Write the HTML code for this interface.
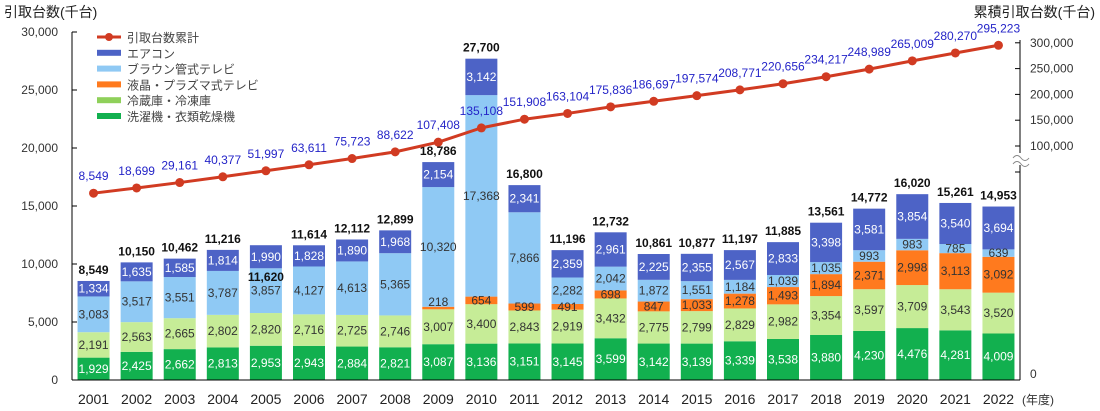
<!DOCTYPE html>
<html><head><meta charset="utf-8"><style>
html,body{margin:0;padding:0;background:#fff;}
svg{display:block;font-family:"Liberation Sans","Noto Sans CJK JP",sans-serif;}
</style></head><body>
<svg id="chart" width="1100" height="411" viewBox="0 0 1100 411">
<text x="4" y="17" font-size="14" fill="#222">引取台数(千台)</text>
<text x="1095" y="17" font-size="14" fill="#222" text-anchor="end">累積引取台数(千台)</text>
<g id="bars"></g>
<g id="labels"></g>
<g id="axes"></g>
<g id="line"></g>
<g id="legend"></g>
</svg>
<script>
const years = ["2001","2002","2003","2004","2005","2006","2007","2008","2009","2010","2011","2012","2013","2014","2015","2016","2017","2018","2019","2020","2021","2022"];
const washer = [1929,2425,2662,2813,2953,2943,2884,2821,3087,3136,3151,3145,3599,3142,3139,3339,3538,3880,4230,4476,4281,4009];
const fridge = [2191,2563,2665,2802,2820,2716,2725,2746,3007,3400,2843,2919,3432,2775,2799,2829,2982,3354,3597,3709,3543,3520];
const lcd = [0,0,0,0,0,0,0,0,218,654,599,491,698,847,1033,1278,1493,1894,2371,2998,3113,3092];
const crt = [3083,3517,3551,3787,3857,4127,4613,5365,10320,17368,7866,2282,2042,1872,1551,1184,1039,1035,993,983,785,639];
const aircon = [1334,1635,1585,1814,1990,1828,1890,1968,2154,3142,2341,2359,2961,2225,2355,2567,2833,3398,3581,3854,3540,3694];
const totals = [8549,10150,10462,11216,11620,11614,12112,12899,18786,27700,16800,11196,12732,10861,10877,11197,11885,13561,14772,16020,15261,14953];
const cumulative = [8549,18699,29161,40377,51997,63611,75723,88622,107408,135108,151908,163104,175836,186697,197574,208771,220656,234217,248989,265009,280270,295223];
const leftTicks = [0,5000,10000,15000,20000,25000,30000];
const rightTicks = [100000,150000,200000,250000,300000];

const NS="http://www.w3.org/2000/svg";
function el(tag,attrs,parent,text){const e=document.createElementNS(NS,tag);for(const k in attrs)e.setAttribute(k,attrs[k]);if(text!==undefined)e.textContent=text;parent.appendChild(e);return e;}
const fmt=v=>v.toLocaleString("en-US");
const X0=72,X1=1020,band=(X1-X0)/years.length,bw=32;
const xc=i=>X0+band*(i+0.5);
const yL=v=>380-v*(348/30000);
const yR=v=>146+(100000-v)*0.000516;

const bars=document.getElementById("bars");
const labels=document.getElementById("labels");
const series=[
 {name:"washer",data:washer,color:"#12b04f",tc:"#fff"},
 {name:"fridge",data:fridge,color:"#c6ec97",tc:"#333"},
 {name:"lcd",data:lcd,color:"#ff7a1e",tc:"#333"},
 {name:"crt",data:crt,color:"#8fc9f4",tc:"#333"},
 {name:"aircon",data:aircon,color:"#4d63c6",tc:"#fff"}];
years.forEach((y,i)=>{
 let base=0;
 series.forEach(s=>{
  const v=s.data[i];
  if(v>0){
   const r=el("rect",{x:xc(i)-bw/2,y:yL(base+v),width:bw,height:yL(base)-yL(base+v),fill:s.color},bars);
   
   
   let ly=(yL(base)+yL(base+v))/2+4;
   if(yL(base)-yL(base+v)<5) ly=yL(base+v)-1;
   const t=el("text",{x:xc(i),y:ly,"font-size":"12","text-anchor":"middle",fill:s.tc},labels,fmt(v));
   
   
  }
  base+=v;
 });
 const ty = (y==="2005") ? yL(totals[i])+36 : yL(totals[i])-7;
 const t=el("text",{x:xc(i),y:ty,"font-size":"12","font-weight":"bold","text-anchor":"middle",fill:"#111"},labels,fmt(totals[i]));
 
 
 const yl=el("text",{x:xc(i),y:404,"font-size":"14","text-anchor":"middle",fill:"#222"},labels,y);
 
 
});
const ax=document.getElementById("axes");
el("line",{x1:X0,y1:32,x2:X0,y2:380,stroke:"#000"},ax);
el("line",{x1:X0,y1:380,x2:X1,y2:380,stroke:"#000"},ax);
el("line",{x1:X1,y1:40,x2:X1,y2:380,stroke:"#000"},ax);
leftTicks.forEach(v=>{
 el("line",{x1:X0,y1:yL(v),x2:X0+5,y2:yL(v),stroke:"#000"},ax);
 const t=el("text",{x:58,y:yL(v)+4,"font-size":"12","text-anchor":"end",fill:"#333"},ax,fmt(v));
 
 
});
rightTicks.forEach(v=>{
 el("line",{x1:X1-5,y1:yR(v),x2:X1,y2:yR(v),stroke:"#000"},ax);
 const t=el("text",{x:1030,y:yR(v)+4,"font-size":"12",fill:"#333"},ax,fmt(v));
 
 
});
el("line",{x1:X1-5,y1:172,x2:X1,y2:172,stroke:"#000"},ax);
el("rect",{x:1010,y:153,width:20,height:12,fill:"#fff"},ax);
el("path",{d:"M1013 158 q4 -5 8 0 t8 0 M1013 164 q4 -5 8 0 t8 0",stroke:"#888",fill:"none"},ax);
el("text",{x:1030,y:378,"font-size":"12",fill:"#333"},ax,"0");
el("text",{x:1022,y:404,"font-size":"12",fill:"#333"},ax,"(年度)");

const ln=document.getElementById("line");
el("polyline",{points:cumulative.map((v,i)=>xc(i)+","+yR(v)).join(" "),fill:"none",stroke:"#d13b22","stroke-width":"3"},ln);
cumulative.forEach((v,i)=>{
 const c=el("circle",{cx:xc(i),cy:yR(v),r:4.5,fill:"#d13b22"},ln);
 
 
 const t=el("text",{x:xc(i),y:yR(v)-13,"font-size":"12","text-anchor":"middle",fill:"#2424c8"},ln,fmt(v));
 
 
});

const lg=document.getElementById("legend");
const items=[["引取台数累計","#d13b22","line"],["エアコン","#4d63c6"],["ブラウン管式テレビ","#8fc9f4"],["液晶・プラズマ式テレビ","#ff7a1e"],["冷蔵庫・冷凍庫","#8fd05a"],["洗濯機・衣類乾燥機","#12b04f"]];
items.forEach((it,k)=>{
 const y=37+k*15.8;
 if(it[2]==="line"){el("line",{x1:97,y1:y,x2:121,y2:y,stroke:it[1],"stroke-width":3},lg);el("circle",{cx:109,cy:y,r:4,fill:it[1]},lg);}
 else el("rect",{x:97,y:y-3,width:24,height:6,fill:it[1]},lg);
 const t=el("text",{x:127,y:y+5,"font-size":"12",fill:"#444"},lg,it[0]);
 
 
});
</script>
</body></html>
